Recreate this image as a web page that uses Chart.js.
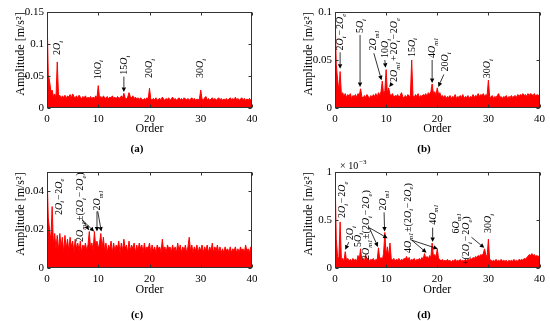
<!DOCTYPE html>
<html>
<head>
<meta charset="utf-8">
<script src="https://cdn.jsdelivr.net/npm/chart.js@4"></script>
<style>
  body { margin: 0; background: #fff; width: 550px; height: 321px; position: relative; overflow: hidden; }
  canvas { position: absolute; }
  .cap { position: absolute; font: bold 11px "Liberation Serif", serif; color: #000; transform: translate(-50%, -50%); }
</style>
</head>
<body>
<canvas id="pa" width="275" height="160" style="left:0;top:0"></canvas>
<canvas id="pb" width="275" height="160" style="left:275px;top:0"></canvas>
<canvas id="pc" width="275" height="161" style="left:0;top:160px"></canvas>
<canvas id="pd" width="275" height="161" style="left:275px;top:160px"></canvas>
<div class="cap" style="left:137px;top:148px">(a)</div>
<div class="cap" style="left:424px;top:148px">(b)</div>
<div class="cap" style="left:137px;top:314px">(c)</div>
<div class="cap" style="left:424px;top:314px">(d)</div>
<script>
  // order spectra, one value every 0.25 order from 0 to 40
  var STEP = 0.25;
  var ampA = [0.150,0.052,0.042,0.026,0.028,0.018,0.022,0.016,0.072,0.018,0.020,0.015,0.019,0.016,0.020,0.015,
    0.019,0.017,0.021,0.016,0.022,0.018,0.016,0.019,0.015,0.020,0.017,0.014,0.018,0.016,0.019,0.014,
    0.017,0.015,0.018,0.014,0.017,0.015,0.019,0.016,0.035,0.015,0.018,0.014,0.019,0.016,0.015,0.018,
    0.014,0.017,0.016,0.019,0.015,0.017,0.014,0.018,0.016,0.015,0.019,0.016,0.023,0.016,0.014,0.017,
    0.024,0.018,0.016,0.019,0.015,0.017,0.014,0.016,0.013,0.016,0.014,0.012,0.015,0.013,0.016,0.014,
    0.031,0.014,0.012,0.015,0.013,0.016,0.012,0.014,0.015,0.013,0.017,0.014,0.012,0.015,0.013,0.016,
    0.012,0.014,0.017,0.013,0.015,0.012,0.014,0.016,0.013,0.015,0.012,0.016,0.014,0.013,0.015,0.012,
    0.014,0.016,0.013,0.015,0.012,0.014,0.013,0.015,0.028,0.014,0.012,0.016,0.018,0.013,0.015,0.012,
    0.014,0.016,0.013,0.015,0.012,0.014,0.016,0.013,0.015,0.012,0.014,0.013,0.015,0.012,0.014,0.016,
    0.013,0.015,0.012,0.017,0.013,0.015,0.012,0.014,0.016,0.013,0.015,0.012,0.014,0.013,0.015,0.012,0.016];
  var ampB = [0.100,0.045,0.030,0.018,0.038,0.014,0.016,0.012,0.015,0.011,0.014,0.012,0.015,0.010,0.013,0.012,
    0.014,0.011,0.015,0.013,0.020,0.012,0.010,0.013,0.011,0.014,0.012,0.010,0.013,0.011,0.014,0.012,
    0.015,0.011,0.016,0.013,0.017,0.028,0.014,0.018,0.040,0.015,0.021,0.014,0.013,0.015,0.011,0.013,
    0.012,0.014,0.011,0.013,0.016,0.012,0.010,0.013,0.011,0.014,0.012,0.013,0.050,0.013,0.011,0.014,
    0.012,0.015,0.011,0.013,0.012,0.014,0.013,0.015,0.012,0.016,0.014,0.017,0.025,0.015,0.017,0.013,
    0.021,0.014,0.016,0.012,0.013,0.011,0.013,0.010,0.012,0.011,0.013,0.010,0.012,0.011,0.014,0.010,
    0.012,0.011,0.013,0.011,0.014,0.010,0.012,0.011,0.013,0.010,0.012,0.011,0.014,0.011,0.013,0.012,
    0.015,0.012,0.014,0.013,0.015,0.012,0.014,0.013,0.029,0.012,0.011,0.013,0.010,0.012,0.011,0.013,
    0.015,0.011,0.012,0.010,0.012,0.011,0.013,0.010,0.012,0.011,0.013,0.011,0.012,0.013,0.011,0.014,
    0.012,0.014,0.013,0.015,0.013,0.014,0.012,0.015,0.013,0.015,0.014,0.013,0.015,0.012,0.014,0.013,0.014];
  var ampC = [0.050,0.026,0.020,0.014,0.032,0.012,0.018,0.010,0.017,0.009,0.018,0.011,0.016,0.008,0.017,0.010,
    0.015,0.009,0.016,0.011,0.014,0.008,0.015,0.010,0.013,0.009,0.014,0.008,0.012,0.010,0.013,0.009,
    0.012,0.019,0.010,0.013,0.009,0.019,0.011,0.014,0.010,0.013,0.018,0.010,0.016,0.009,0.013,0.008,
    0.012,0.010,0.014,0.008,0.013,0.009,0.012,0.010,0.014,0.008,0.013,0.009,0.015,0.010,0.012,0.008,
    0.014,0.009,0.012,0.010,0.013,0.008,0.012,0.009,0.013,0.010,0.012,0.008,0.013,0.009,0.011,0.010,
    0.013,0.008,0.012,0.009,0.011,0.008,0.012,0.010,0.011,0.008,0.015,0.009,0.011,0.008,0.012,0.010,
    0.011,0.008,0.012,0.009,0.011,0.008,0.013,0.009,0.012,0.008,0.011,0.009,0.012,0.008,0.011,0.016,
    0.009,0.012,0.008,0.011,0.009,0.012,0.008,0.011,0.009,0.012,0.008,0.011,0.009,0.012,0.008,0.011,
    0.009,0.013,0.008,0.011,0.009,0.012,0.008,0.011,0.008,0.010,0.008,0.011,0.009,0.010,0.008,0.011,
    0.008,0.010,0.009,0.011,0.008,0.010,0.008,0.011,0.009,0.010,0.008,0.012,0.009,0.010,0.008,0.011,0.010];
  // panel (d) is in units of 1e-3 m/s^2
  var ampD = [1.00,0.30,0.12,0.09,0.48,0.08,0.10,0.07,0.17,0.08,0.10,0.07,0.09,0.07,0.10,0.08,
    0.09,0.07,0.13,0.09,0.20,0.08,0.10,0.07,0.14,0.08,0.10,0.07,0.09,0.08,0.10,0.07,
    0.09,0.08,0.21,0.09,0.11,0.08,0.15,0.37,0.13,0.22,0.12,0.26,0.10,0.08,0.10,0.07,
    0.09,0.08,0.10,0.07,0.09,0.08,0.10,0.09,0.12,0.08,0.11,0.07,0.09,0.08,0.10,0.07,
    0.09,0.08,0.10,0.08,0.11,0.09,0.15,0.10,0.12,0.09,0.13,0.11,0.26,0.12,0.14,0.11,
    0.20,0.10,0.09,0.07,0.09,0.07,0.08,0.07,0.09,0.07,0.08,0.06,0.08,0.07,0.09,0.07,
    0.08,0.07,0.09,0.07,0.08,0.07,0.09,0.08,0.09,0.08,0.10,0.09,0.11,0.10,0.12,0.11,
    0.13,0.12,0.14,0.13,0.15,0.20,0.14,0.11,0.30,0.09,0.08,0.07,0.08,0.07,0.09,0.07,
    0.08,0.07,0.09,0.07,0.08,0.07,0.08,0.06,0.08,0.07,0.08,0.07,0.09,0.07,0.08,0.07,
    0.09,0.08,0.09,0.08,0.10,0.09,0.11,0.12,0.14,0.13,0.15,0.13,0.14,0.12,0.13,0.12,0.13];

  var xTicks = [0, 10, 20, 30, 40];
  var yTicksA = [0, 0.05, 0.1, 0.15];
  var yTicksB = [0, 0.05, 0.1];
  var yTicksC = [0, 0.02, 0.04];
  var yTicksD = [0, 0.5, 1];

  // labels: x order, y value at the bottom of the rotated text
  var notesA = [
    {x: 1.95, y: 0.083, t: '2O_i'}, {x: 9.8, y: 0.045, t: '10O_i'}, {x: 15, y: 0.052, t: '15O_i'},
    {x: 19.9, y: 0.047, t: '20O_i'}, {x: 29.85, y: 0.047, t: '30O_i'}
  ];
  var arrowsA = [[15, 0.049, 15, 0.025]];
  var notesB = [
    {x: 1.0, y: 0.060, t: '2O_i\u200a\u2212\u200a2O_e'}, {x: 4.9, y: 0.078, t: '5O_i'},
    {x: 7.4, y: 0.060, t: '2O_{m1}'}, {x: 9.75, y: 0.052, t: '10O_i'},
    {x: 11.5, y: 0.027, t: '2O_{m1}\u200a+\u200a2O_i\u200a\u2212\u200a2O_e'}, {x: 15, y: 0.053, t: '15O_i'},
    {x: 19, y: 0.052, t: '4O_{m1}'}, {x: 21.5, y: 0.038, t: '20O_i'}, {x: 29.7, y: 0.031, t: '30O_i'}
  ];
  var arrowsB = [[1.0, 0.058, 1.0, 0.041], [4.9, 0.076, 4.9, 0.022], [7.6, 0.057, 9.1, 0.029],
    [9.75, 0.050, 9.9, 0.042], [11.2, 0.026, 10.6, 0.022], [19, 0.050, 19, 0.026], [21.3, 0.035, 20.2, 0.022]];
  var notesC = [
    {x: 2.2, y: 0.0276, t: '2O_i\u200a\u2212\u200a2O_e'},
    {x: 6.4, y: 0.0135, t: '2O_{m1}\u200a\u00b1(2O_i\u200a\u2212\u200a2O_e)'},
    {x: 9.75, y: 0.030, t: '2O_{m1}'}
  ];
  var arrowsC = [[6.9, 0.025, 8.2, 0.0197], [6.9, 0.025, 9.2, 0.019], [9.75, 0.0295, 9.75, 0.019], [9.9, 0.0295, 10.6, 0.019]];
  var notesD = [
    {x: 1.4, y: 0.52, t: '2O_i\u200a\u2212\u200a2O_e'}, {x: 2.9, y: 0.29, t: '2O_i'}, {x: 4.4, y: 0.22, t: '5O_i'},
    {x: 6.05, y: 0.083, t: '2O_{m1}\u200a\u00b1(2O_i\u200a\u2212\u200a2O_e)'}, {x: 9.4, y: 0.60, t: '2O_{m1}'},
    {x: 14.2, y: 0.156, t: '4O_{m1}\u200a\u00b1(2O_i\u200a\u2212\u200a2O_e)'}, {x: 19.1, y: 0.45, t: '4O_{m1}'},
    {x: 23.6, y: 0.36, t: '6O_{m1}'}, {x: 25.6, y: 0.03, t: '+(2O_i\u200a\u2212\u200a2O_e)'}, {x: 29.9, y: 0.365, t: '30O_i'}
  ];
  var arrowsD = [[2.7, 0.27, 2.0, 0.19], [6.7, 0.42, 8.4, 0.22], [6.7, 0.42, 10.3, 0.31], [9.6, 0.58, 9.7, 0.38],
    [15.0, 0.29, 17.9, 0.16], [15.0, 0.29, 20.1, 0.2], [19.1, 0.42, 19.1, 0.27], [26.7, 0.32, 29.2, 0.21]];

  var SERIF = '"Liberation Serif", "Times New Roman", serif';
  var orders = ampA.map(function (_, i) { return i * STEP; });

  // rotated text with italic O and subscripts, running upward from (x, y)
  function richRot(ctx, x, y, str, size) {
    var toks = [];
    for (var i = 0; i < str.length; i++) {
      var c = str[i];
      if (c === '_') {
        var s;
        if (str[i + 1] === '{') { var j = str.indexOf('}', i); s = str.slice(i + 2, j); i = j; }
        else { s = str[i + 1]; i++; }
        toks.push({t: s, sub: true});
      } else {
        toks.push({t: c, it: c === 'O'});
      }
    }
    ctx.save();
    ctx.translate(x, y);
    ctx.rotate(-Math.PI / 2);
    ctx.fillStyle = '#000';
    ctx.textBaseline = 'alphabetic';
    var cx = 0, base = size * 0.33;
    toks.forEach(function (tk) {
      var fs = tk.sub ? size * 0.66 : size;
      ctx.font = (tk.it || tk.sub ? 'italic ' : '') + fs + 'px ' + SERIF;
      ctx.fillText(tk.t, cx, base + (tk.sub ? size * 0.25 : 0));
      cx += ctx.measureText(tk.t).width;
    });
    ctx.restore();
  }

  function arrow(ctx, x1, y1, x2, y2) {
    var a = Math.atan2(y2 - y1, x2 - x1), L = 4.5, W = 2.2;
    ctx.beginPath();
    ctx.moveTo(x1, y1);
    ctx.lineTo(x2 - Math.cos(a) * L, y2 - Math.sin(a) * L);
    ctx.stroke();
    ctx.beginPath();
    ctx.moveTo(x2, y2);
    ctx.lineTo(x2 - Math.cos(a) * L - Math.sin(a) * W, y2 - Math.sin(a) * L + Math.cos(a) * W);
    ctx.lineTo(x2 - Math.cos(a) * L + Math.sin(a) * W, y2 - Math.sin(a) * L - Math.cos(a) * W);
    ctx.closePath();
    ctx.fill();
  }

  var framePlugin = {
    id: 'frame',
    afterDatasetsDraw: function (chart) {
      var ctx = chart.ctx, a = chart.chartArea, sx = chart.scales.x, sy = chart.scales.y;
      var L = Math.round(a.left) + 0.5, R = Math.round(a.right) - 0.5;
      var T = Math.round(a.top) + 0.5, B = Math.round(a.bottom) - 0.5;
      ctx.save();
      ctx.strokeStyle = '#333';
      ctx.lineWidth = 1;
      ctx.strokeRect(L, T, R - L, B - T);
      ctx.beginPath();
      sx.ticks.forEach(function (t) {
        var px = Math.round(sx.getPixelForValue(t.value)) + 0.5;
        ctx.moveTo(px, B); ctx.lineTo(px, B - 3);
        ctx.moveTo(px, T); ctx.lineTo(px, T + 3);
      });
      sy.ticks.forEach(function (t) {
        var py = Math.round(sy.getPixelForValue(t.value)) + 0.5;
        ctx.moveTo(L, py); ctx.lineTo(L + 3, py);
        ctx.moveTo(R, py); ctx.lineTo(R - 3, py);
      });
      ctx.stroke();

      // y title
      ctx.fillStyle = '#000';
      ctx.font = '12px ' + SERIF;
      ctx.textAlign = 'center';
      ctx.textBaseline = 'middle';
      ctx.translate(a.left - 26, (a.top + a.bottom) / 2 - 6);
      ctx.rotate(-Math.PI / 2);
      ctx.fillText('Amplitude [m/s\u00b2]', 0, 0);
      ctx.restore();

      var p = chart.config.options.panel;
      ctx.save();
      ctx.strokeStyle = '#000';
      ctx.fillStyle = '#000';
      ctx.lineWidth = 0.8;
      p.arrows.forEach(function (ar) {
        arrow(ctx, sx.getPixelForValue(ar[0]), sy.getPixelForValue(ar[1]),
          sx.getPixelForValue(ar[2]), sy.getPixelForValue(ar[3]));
      });
      p.notes.forEach(function (n) {
        richRot(ctx, sx.getPixelForValue(n.x), sy.getPixelForValue(n.y), n.t, 10);
      });
      if (p.exp) {
        ctx.textAlign = 'left';
        ctx.textBaseline = 'alphabetic';
        ctx.font = '10px ' + SERIF;
        ctx.fillText('\u00d7 10', a.left + 5, a.top - 3);
        var w = ctx.measureText('\u00d7 10').width;
        ctx.font = '7px ' + SERIF;
        ctx.fillText('\u22123', a.left + 5 + w + 1, a.top - 8);
      }
      ctx.restore();
    }
  };

  var panels = [
    {id: 'pa', amp: ampA, yMax: 0.15, yTicks: yTicksA, notes: notesA, arrows: arrowsA, pt: 12, pr: 23, yw: 47, xh: 52},
    {id: 'pb', amp: ampB, yMax: 0.1, yTicks: yTicksB, notes: notesB, arrows: arrowsB, pt: 12, pr: 10, yw: 60, xh: 52},
    {id: 'pc', amp: ampC, yMax: 0.05, yTicks: yTicksC, notes: notesC, arrows: arrowsC, pt: 12, pr: 23, yw: 47, xh: 53},
    {id: 'pd', amp: ampD, yMax: 1, yTicks: yTicksD, notes: notesD, arrows: arrowsD, pt: 12, pr: 10, yw: 60, xh: 53, exp: true}
  ];

  panels.forEach(function (p) {
    new Chart(document.getElementById(p.id), {
      type: 'line',
      data: {
        datasets: [{
          data: p.amp.map(function (v, i) { return {x: orders[i], y: v}; }),
          borderColor: '#ff0000',
          backgroundColor: '#ff0000',
          borderWidth: 1,
          pointRadius: 0,
          fill: 'origin',
          tension: 0
        }]
      },
      options: {
        panel: p,
        responsive: false,
        animation: false,
        events: [],
        layout: { padding: { top: p.pt, right: p.pr, left: 0, bottom: 0 } },
        plugins: { legend: { display: false }, tooltip: { enabled: false } },
        scales: {
          x: {
            type: 'linear', min: 0, max: 40,
            grid: { display: false, drawTicks: false },
            border: { display: false },
            afterBuildTicks: function (s) { s.ticks = xTicks.map(function (v) { return {value: v}; }); },
            ticks: { padding: 5, color: '#000', font: { family: SERIF, size: 11 }, maxRotation: 0, autoSkip: false,
              callback: function (v) { return String(v); } },
            title: { display: true, text: 'Order', color: '#000', font: { family: SERIF, size: 12 }, padding: { top: 0, bottom: 24 } },
            afterFit: function (s) { s.height = p.xh; }
          },
          y: {
            min: 0, max: p.yMax,
            grid: { display: false, drawTicks: false },
            border: { display: false },
            afterBuildTicks: function (s) { s.ticks = p.yTicks.map(function (v) { return {value: v}; }); },
            ticks: { padding: 3, color: '#000', font: { family: SERIF, size: 11 }, autoSkip: false,
              callback: function (v) { return String(v); } },
            afterFit: function (s) { s.width = p.yw; }
          }
        }
      },
      plugins: [framePlugin]
    });
  });
</script>
</body>
</html>
